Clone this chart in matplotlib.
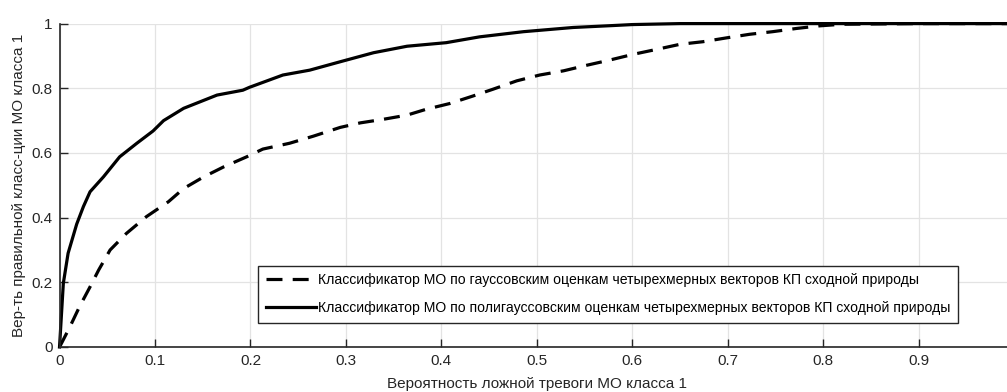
import matplotlib.pyplot as plt

plt.rcParams["font.family"] = ["Liberation Sans", "DejaVu Sans"]

# ROC curves
gauss_x = [0, 0.002, 0.011, 0.021, 0.032, 0.041, 0.053, 0.070, 0.091, 0.114,
           0.130, 0.151, 0.172, 0.196, 0.213, 0.241, 0.266, 0.294, 0.315, 0.339,
           0.364, 0.384, 0.409, 0.433, 0.454, 0.479, 0.503, 0.528, 0.552, 0.576,
           0.601, 0.625, 0.650, 0.674, 0.699, 0.723, 0.747, 0.772, 0.796, 0.820,
           0.900, 1.0]
gauss_y = [0, 0.011, 0.063, 0.125, 0.186, 0.238, 0.300, 0.351, 0.403, 0.449,
           0.490, 0.526, 0.557, 0.588, 0.612, 0.630, 0.652, 0.679, 0.693, 0.704,
           0.717, 0.735, 0.753, 0.776, 0.797, 0.823, 0.841, 0.854, 0.871, 0.887,
           0.905, 0.920, 0.936, 0.944, 0.956, 0.967, 0.975, 0.985, 0.993, 0.998,
           1.0, 1.0]

poly_x = [0, 0.004, 0.009, 0.018, 0.025, 0.032, 0.046, 0.063, 0.081, 0.098,
          0.109, 0.130, 0.165, 0.192, 0.199, 0.234, 0.262, 0.294, 0.329, 0.364,
          0.405, 0.440, 0.486, 0.538, 0.580, 0.600, 0.650, 0.700, 0.800, 1.0]
poly_y = [0, 0.197, 0.290, 0.380, 0.434, 0.480, 0.526, 0.588, 0.630, 0.668,
          0.700, 0.738, 0.779, 0.794, 0.803, 0.841, 0.856, 0.882, 0.910, 0.930,
          0.941, 0.959, 0.975, 0.988, 0.994, 0.997, 1.0, 1.0, 1.0, 1.0]

labels = [
    "Классификатор МО по гауссовским оценкам четырехмерных векторов КП сходной природы",
    "Классификатор МО по полигауссовским оценкам четырехмерных векторов КП сходной природы",
]
x_ticks = [0, 0.1, 0.2, 0.3, 0.4, 0.5, 0.6, 0.7, 0.8, 0.9]
y_ticks = [0, 0.2, 0.4, 0.6, 0.8, 1]

fig = plt.figure(figsize=(10.07, 3.92), dpi=100)
ax = fig.add_axes([0.0591, 0.1148, 0.948, 0.825])

ax.plot(gauss_x, gauss_y, color="black", lw=2.3, dashes=(5, 3.2),
        label=labels[0], clip_on=False)
ax.plot(poly_x, poly_y, color="black", lw=2.3, label=labels[1], clip_on=False)

ax.set_xlim(0, 1)
ax.set_ylim(0, 1)
ax.set_xticks(x_ticks)
ax.set_yticks(y_ticks)
ax.set_xticklabels(["0", "0.1", "0.2", "0.3", "0.4", "0.5", "0.6", "0.7", "0.8", "0.9"])
ax.set_yticklabels(["0", "0.2", "0.4", "0.6", "0.8", "1"])
ax.grid(True, color="#e3e3e3", lw=0.9)
ax.set_axisbelow(True)
ax.tick_params(direction="in", length=6, width=1, colors="#262626",
               labelsize=11, pad=5)
for s in ["top", "right"]:
    ax.spines[s].set_visible(False)
for s in ["left", "bottom"]:
    ax.spines[s].set_color("#262626")
    ax.spines[s].set_linewidth(1.2)

ax.set_xlabel("Вероятность ложной тревоги МО класса 1", fontsize=11,
              color="#262626", labelpad=6.5)
ax.set_ylabel("Вер-ть правильной класс-ции МО класса 1", fontsize=11,
              color="#262626", labelpad=4)

leg = ax.legend(loc="lower right", bbox_to_anchor=(0.941, 0.074),
                fontsize=10.1, handlelength=3.6, handletextpad=0.1,
                fancybox=False, framealpha=1, edgecolor="#262626",
                borderaxespad=0, labelspacing=1.0, borderpad=0.55)
leg.get_frame().set_linewidth(1)

plt.savefig("out.png", dpi=100)
